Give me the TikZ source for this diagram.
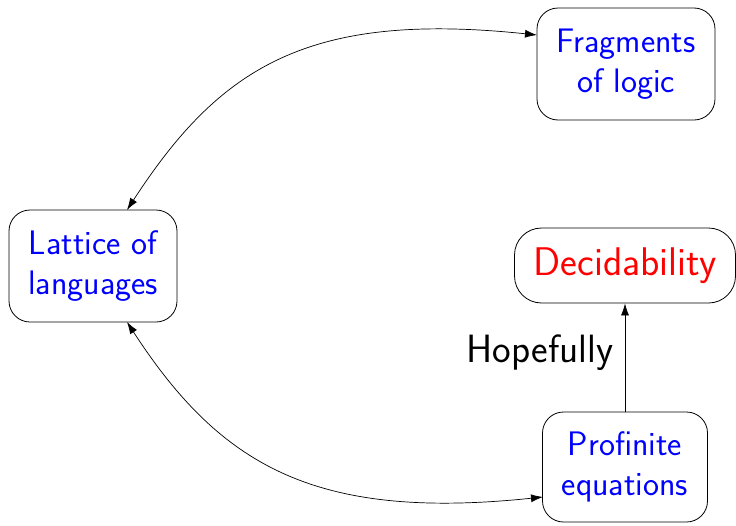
\documentclass[tikz,border=0pt]{standalone}
\usetikzlibrary{arrows.meta}
\begin{document}
\begin{tikzpicture}[x=1pt,y=-1pt,
  box/.style={draw=black, line width=0.8pt, rounded corners=21pt, align=center,
    inner sep=0pt, font=\sffamily\fontsize{34}{40}\selectfont, text=blue},
  conn/.style={line width=0.7pt, {Latex[length=12pt,width=8pt]}-{Latex[length=12pt,width=8pt]}},
  oneway/.style={line width=0.7pt, -{Latex[length=12pt,width=8pt]}}]
\useasboundingbox (0,0) rectangle (736,525);
\node[box, minimum width=178pt, minimum height=112pt] (frag) at (626,64) {Fragments\\of logic};
\node[box, minimum width=168pt, minimum height=112pt] (latt) at (93,266) {Lattice of\\languages};
\node[box, minimum width=221pt, minimum height=75pt, rounded corners=27pt, text=red,
  font=\sffamily\fontsize{40}{46}\selectfont] (dec) at (625,265.5) {Decidability};
\node[box, minimum width=165pt, minimum height=110pt] (prof) at (625,467) {Profinite\\equations};
\node[font=\sffamily\fontsize{39.5}{46}\selectfont, inner sep=0pt] (hope) at (540,353) {Hopefully};
\coordinate (lt) at (127,210);
\coordinate (lb) at (127,322);
\coordinate (ft) at (537,35);
\coordinate (pb) at (543,497);
\draw[conn] (lt) .. controls (220,67) and (308,11) .. (ft);
\draw[conn] (lb) .. controls (220,465) and (314,521) .. (pb);
\draw[oneway] (prof.north) -- (dec.south);
\end{tikzpicture}
\end{document}
